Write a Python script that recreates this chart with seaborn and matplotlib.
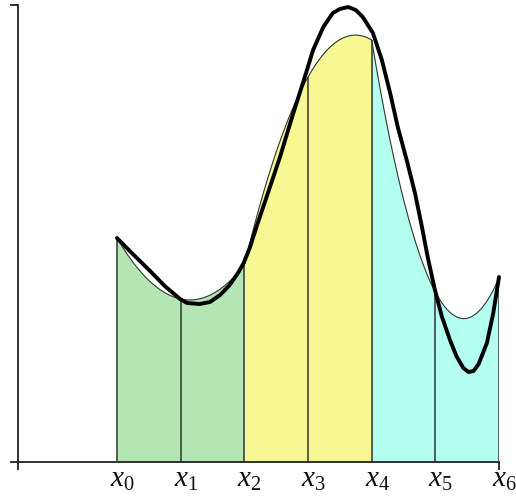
import numpy as np
import matplotlib
matplotlib.use('Agg')
import matplotlib.pyplot as plt
import seaborn as sns

# ---- data ----
node_labels = [r'$x_0$', r'$x_1$', r'$x_2$', r'$x_3$', r'$x_4$', r'$x_5$', r'$x_6$']
node_x = [0, 1, 2, 3, 4, 5, 6]
node_y = [2.24, 1.63, 1.97, 3.85, 4.22, 1.70, 1.84]

curve_x = [0.00, 0.20, 0.52, 0.75, 0.99, 1.10, 1.30, 1.46, 1.62, 1.77, 1.90, 1.99,
           2.09, 2.20, 2.36, 2.56, 2.76, 2.95, 3.08, 3.24, 3.39, 3.50, 3.63, 3.75,
           3.86, 4.02, 4.16, 4.29, 4.41, 4.55, 4.68, 4.79, 4.88, 4.99, 5.10, 5.23,
           5.33, 5.44, 5.52, 5.60, 5.68, 5.81, 5.91, 6.00]
curve_y = [2.24, 2.11, 1.91, 1.76, 1.63, 1.59, 1.58, 1.60, 1.67, 1.77, 1.89, 1.99,
           2.15, 2.37, 2.67, 3.05, 3.47, 3.85, 4.12, 4.35, 4.49, 4.53, 4.55, 4.52,
           4.45, 4.29, 4.02, 3.69, 3.35, 3.02, 2.69, 2.35, 2.05, 1.73, 1.46, 1.22,
           1.06, 0.94, 0.90, 0.91, 0.98, 1.19, 1.49, 1.85]

panel_colors = ['#b3e6b3', '#f7f794', '#b3fff0']

# ---- style ----
sns.set_style('white')
plt.rcParams['mathtext.fontset'] = 'custom'
plt.rcParams['mathtext.it'] = 'Liberation Serif:italic'
plt.rcParams['mathtext.rm'] = 'Liberation Serif'

fig = plt.figure(figsize=(5.16, 5.01), dpi=100)
ax = fig.add_axes([18 / 516, 39 / 501, 481 / 516, 457 / 501])
xmin = -99 / 63.67
ymax = 4.57
ax.set_xlim(xmin, 6)
ax.set_ylim(0, ymax)

# Simpson parabolas through each triple of nodes
for k in range(3):
    xs = node_x[2 * k:2 * k + 3]
    ys = node_y[2 * k:2 * k + 3]
    coef = np.polyfit(xs, ys, 2)
    xx = np.linspace(xs[0], xs[-1], 200)
    yy = np.polyval(coef, xx)
    ax.fill_between(xx, 0, yy, facecolor=panel_colors[k], edgecolor='none', zorder=1)
    ax.plot(xx, yy, color='#333333', lw=0.8, zorder=2)

ax.vlines(node_x, 0, node_y, color='#333333', lw=1.1, zorder=2)

sns.lineplot(x=curve_x, y=curve_y, color='black', lw=2.8, ax=ax, zorder=3,
             sort=False)
for ln in ax.lines:
    ln.set_clip_on(False)
ax.lines[-1].set_solid_joinstyle('round')
ax.lines[-1].set_solid_capstyle('round')

# ---- axes ----
for s in ['top', 'right']:
    ax.spines[s].set_visible(False)
for s in ['left', 'bottom']:
    ax.spines[s].set_color('#222222')
    ax.spines[s].set_linewidth(1.3)
ax.set_xticks([xmin, 6])
ax.set_xticklabels([])
ax.set_yticks([0, ymax])
ax.set_yticklabels([])
ax.tick_params(bottom=True, left=True, length=5.5, width=1.3, color='#222222',
               direction='out')
ax.grid(False)

for xv, lab in zip(node_x, node_labels):
    ax.annotate(lab, xy=(xv, 0), xytext=(-5, -18), textcoords='offset points',
                ha='left', va='baseline', fontsize=21, color='#111111',
                annotation_clip=False)

fig.savefig('out.png', dpi=100)
